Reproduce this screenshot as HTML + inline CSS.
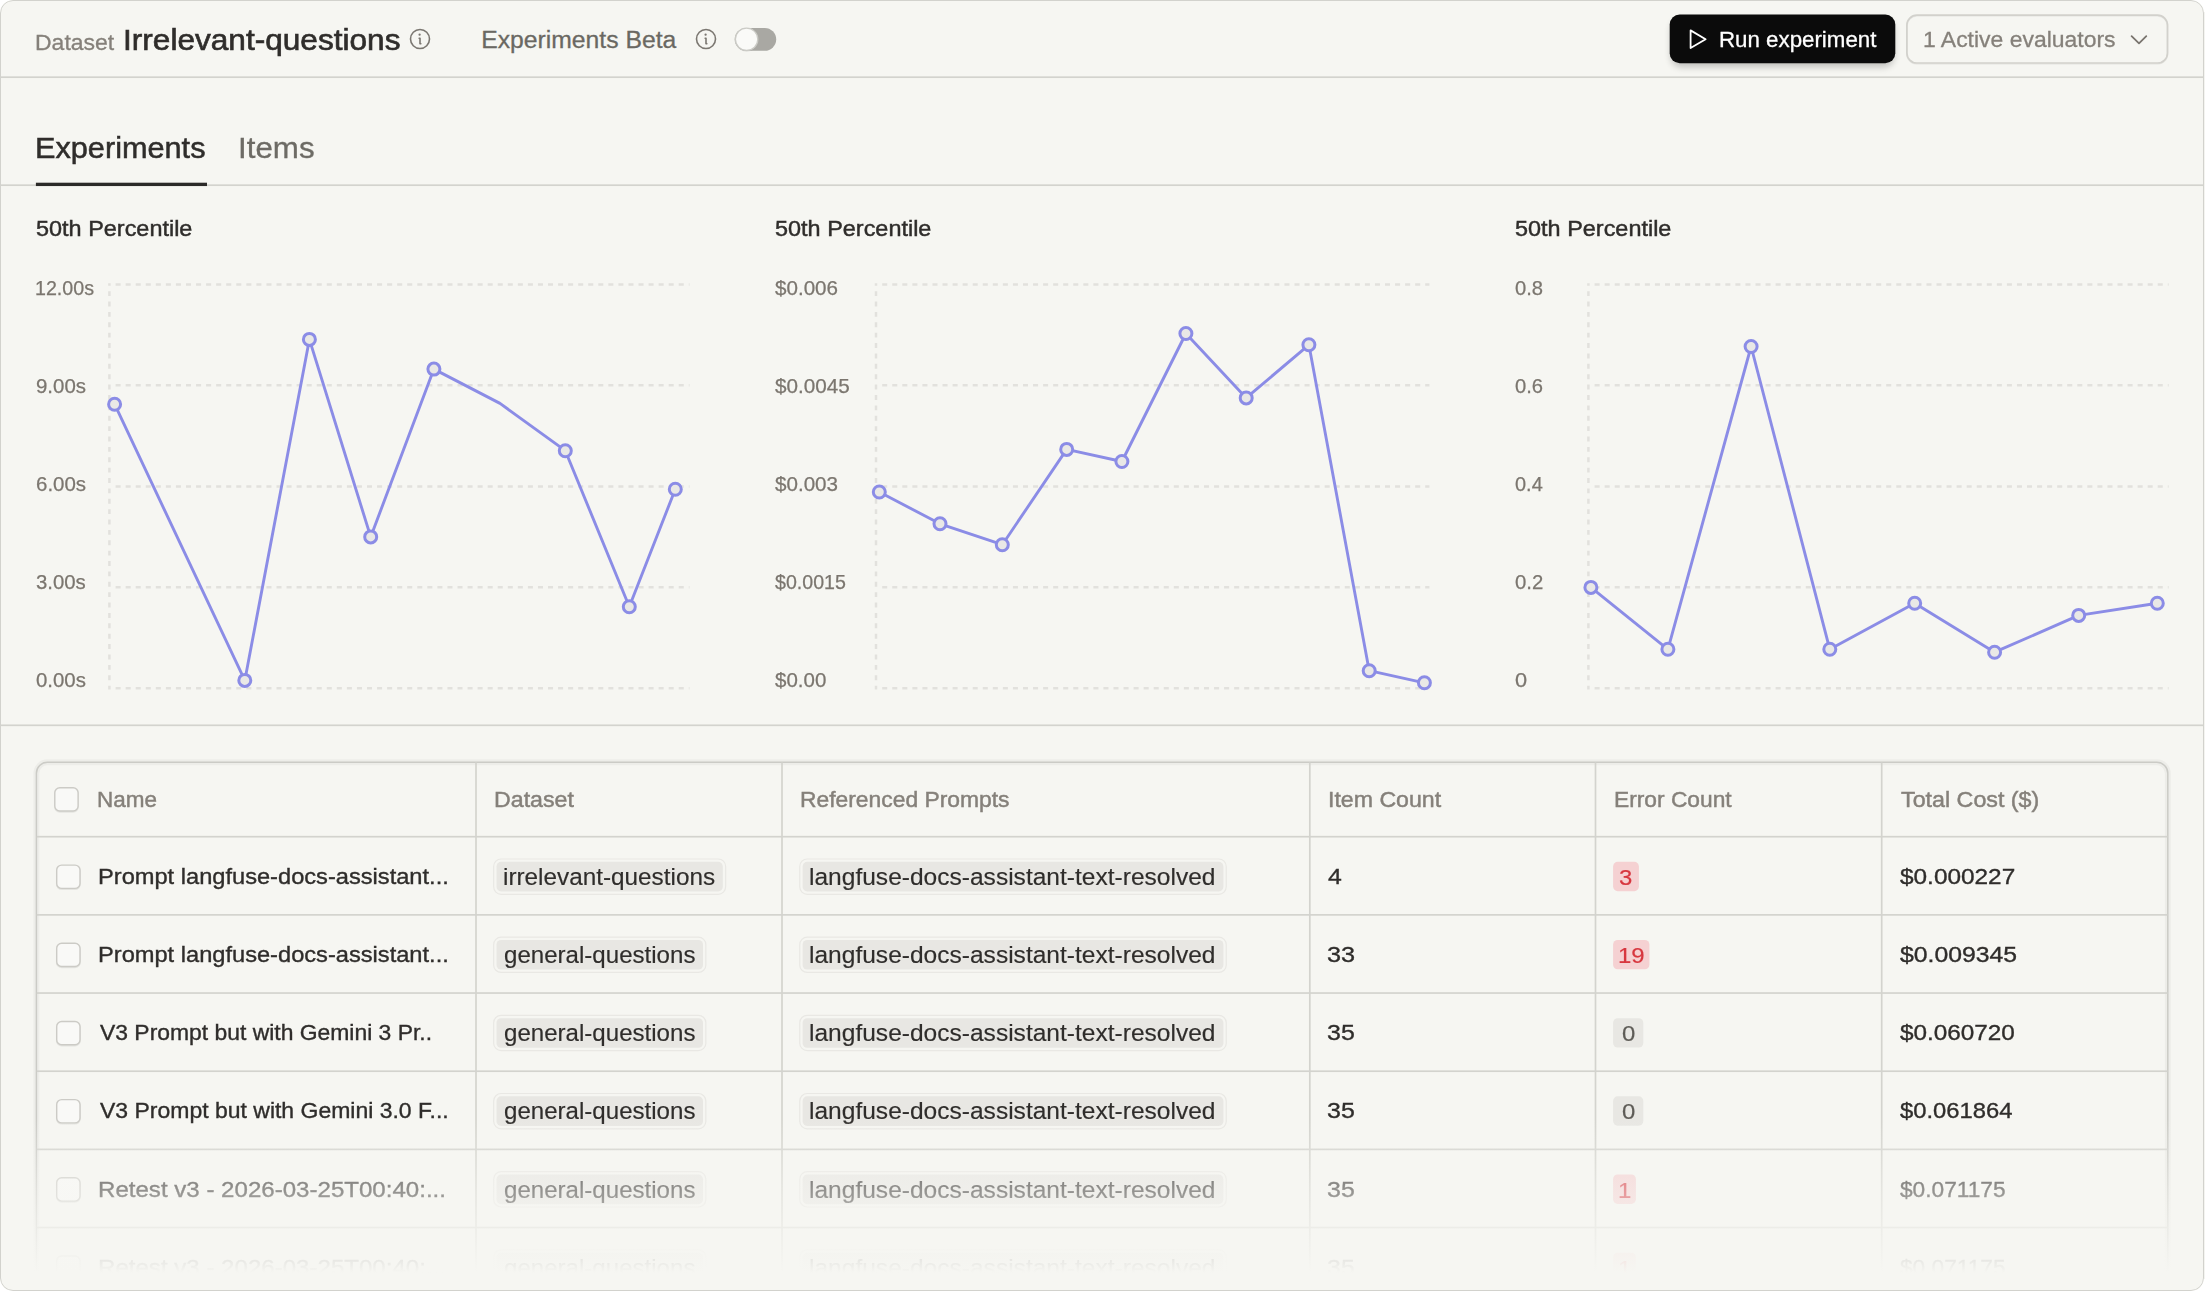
<!DOCTYPE html>
<html lang="en"><head><meta charset="utf-8"><title>Dataset Irrelevant-questions – Experiments</title>
<style>
html,body{margin:0;padding:0;background:#ffffff}
body{width:2205px;height:1291px;position:relative;overflow:hidden;font-family:"Liberation Sans",sans-serif}
#card{position:absolute;left:0;top:0;width:2204px;height:1291px;background:#f6f6f2;border-radius:13px;overflow:hidden}
#edge{position:absolute;left:2204px;top:12px;width:1px;height:1267px;background:#f4f4f0}
.a{position:absolute}
.t{position:absolute;white-space:nowrap;line-height:1;transform-origin:0 0;-webkit-font-smoothing:antialiased}
</style></head><body><div id="card">
<svg class="a" style="left:0;top:0" width="2205" height="1291" viewBox="0 0 2205 1291"><rect x="493.65" y="859.00" width="232.00" height="35.3" rx="7.5" fill="none" stroke="#e9e8e4" stroke-width="1.2"/><rect x="496.50" y="861.85" width="226.30" height="29.6" rx="4.6" fill="#e8e7e3"/><rect x="799.75" y="859.00" width="426.50" height="35.3" rx="7.5" fill="none" stroke="#e9e8e4" stroke-width="1.2"/><rect x="802.60" y="861.85" width="420.80" height="29.6" rx="4.6" fill="#e8e7e3"/><rect x="1613.10" y="861.80" width="25.80" height="29.4" rx="4.6" fill="#f5d1d2"/><rect x="493.65" y="937.17" width="212.20" height="35.3" rx="7.5" fill="none" stroke="#e9e8e4" stroke-width="1.2"/><rect x="496.50" y="940.02" width="206.50" height="29.6" rx="4.6" fill="#e8e7e3"/><rect x="799.75" y="937.17" width="426.50" height="35.3" rx="7.5" fill="none" stroke="#e9e8e4" stroke-width="1.2"/><rect x="802.60" y="940.02" width="420.80" height="29.6" rx="4.6" fill="#e8e7e3"/><rect x="1613.10" y="939.97" width="36.30" height="29.4" rx="4.6" fill="#f5d1d2"/><rect x="493.65" y="1015.34" width="212.20" height="35.3" rx="7.5" fill="none" stroke="#e9e8e4" stroke-width="1.2"/><rect x="496.50" y="1018.19" width="206.50" height="29.6" rx="4.6" fill="#e8e7e3"/><rect x="799.75" y="1015.34" width="426.50" height="35.3" rx="7.5" fill="none" stroke="#e9e8e4" stroke-width="1.2"/><rect x="802.60" y="1018.19" width="420.80" height="29.6" rx="4.6" fill="#e8e7e3"/><rect x="1613.10" y="1018.14" width="30.20" height="29.4" rx="4.6" fill="#e8e7e3"/><rect x="493.65" y="1093.51" width="212.20" height="35.3" rx="7.5" fill="none" stroke="#e9e8e4" stroke-width="1.2"/><rect x="496.50" y="1096.36" width="206.50" height="29.6" rx="4.6" fill="#e8e7e3"/><rect x="799.75" y="1093.51" width="426.50" height="35.3" rx="7.5" fill="none" stroke="#e9e8e4" stroke-width="1.2"/><rect x="802.60" y="1096.36" width="420.80" height="29.6" rx="4.6" fill="#e8e7e3"/><rect x="1613.10" y="1096.31" width="30.20" height="29.4" rx="4.6" fill="#e8e7e3"/><rect x="493.65" y="1171.68" width="212.20" height="35.3" rx="7.5" fill="none" stroke="#e9e8e4" stroke-width="1.2"/><rect x="496.50" y="1174.53" width="206.50" height="29.6" rx="4.6" fill="#e8e7e3"/><rect x="799.75" y="1171.68" width="426.50" height="35.3" rx="7.5" fill="none" stroke="#e9e8e4" stroke-width="1.2"/><rect x="802.60" y="1174.53" width="420.80" height="29.6" rx="4.6" fill="#e8e7e3"/><rect x="1613.10" y="1174.48" width="22.80" height="29.4" rx="4.6" fill="#f5d1d2"/><rect x="493.65" y="1249.85" width="212.20" height="35.3" rx="7.5" fill="none" stroke="#e9e8e4" stroke-width="1.2"/><rect x="496.50" y="1252.70" width="206.50" height="29.6" rx="4.6" fill="#e8e7e3"/><rect x="799.75" y="1249.85" width="426.50" height="35.3" rx="7.5" fill="none" stroke="#e9e8e4" stroke-width="1.2"/><rect x="802.60" y="1252.70" width="420.80" height="29.6" rx="4.6" fill="#e8e7e3"/><rect x="1613.10" y="1252.65" width="22.80" height="29.4" rx="4.6" fill="#f5d1d2"/></svg>
<div class="t " style="left:35.21px;top:30px;font-size:22.57px;line-height:25px;color:#85807a;transform:scaleX(1.0187);-webkit-text-stroke:0.3px #85807a;">Dataset</div>
<div class="t " style="left:123.01px;top:23px;font-size:30.1px;line-height:33px;color:#2f2d2b;transform:scaleX(1.0498);-webkit-text-stroke:0.65px #2f2d2b;">Irrelevant-questions</div>
<svg class="a" style="left:408.03px;top:27.130000000000003px" width="24" height="24" viewBox="0 0 24 24" fill="none" stroke="#7b7771" stroke-width="1.6" stroke-linecap="round" stroke-linejoin="round"><circle cx="12" cy="12" r="9.5"/><path d="M11.15 11.2H12V16.75H12.85"/><circle cx="11.6" cy="7.7" r="1.15" fill="#7b7771" stroke="none"/></svg>
<div class="t " style="left:481.17px;top:26px;font-size:24.72px;line-height:27px;color:#6a6862;-webkit-text-stroke:0.3px #6a6862;">Experiments Beta</div>
<svg class="a" style="left:694.0px;top:27.130000000000003px" width="24" height="24" viewBox="0 0 24 24" fill="none" stroke="#7b7771" stroke-width="1.6" stroke-linecap="round" stroke-linejoin="round"><circle cx="12" cy="12" r="9.5"/><path d="M11.15 11.2H12V16.75H12.85"/><circle cx="11.6" cy="7.7" r="1.15" fill="#7b7771" stroke="none"/></svg>
<svg class="a" style="left:720px;top:15px" width="70" height="50" viewBox="720 15 70 50"><rect x="734.7" y="27.9" width="41.5" height="22.9" rx="11.45" fill="#a9a8a3"/><circle cx="746.6" cy="40.6" r="11" fill="#000" opacity=".06"/><circle cx="746.6" cy="39.3" r="11.2" fill="#fafaf8" stroke="#cbcbc6" stroke-width="1.3"/></svg>
<svg class="a" style="left:1640px;top:0" width="290" height="90" viewBox="1640 0 290 90"><defs><filter id="bs" x="-10%" y="-30%" width="120%" height="180%"><feGaussianBlur stdDeviation="3.5"/></filter></defs><rect x="1671" y="20" width="223" height="47" rx="10" fill="#000" opacity=".22" filter="url(#bs)"/><rect x="1669.7" y="14.6" width="225.6" height="48.6" rx="10" fill="#0b0b0b"/></svg>
<svg class="a" style="left:1686px;top:27px" width="24" height="24" viewBox="0 0 24 24" fill="none" stroke="#fff" stroke-width="1.8" stroke-linejoin="round"><path d="M4.6 3.4 L19.6 12.2 L4.6 21 Z"/></svg>
<div class="t " style="left:1719.07px;top:27px;font-size:22.57px;line-height:25px;color:#ffffff;transform:scaleX(0.9882);-webkit-text-stroke:0.3px #ffffff;">Run experiment</div>
<div class="t " style="left:1923.23px;top:27px;font-size:22.57px;line-height:25px;color:#85807a;transform:scaleX(1.0164);-webkit-text-stroke:0.3px #85807a;">1 Active evaluators</div>
<svg class="a" style="left:2127px;top:27.5px" width="24" height="24" viewBox="0 0 24 24" fill="none" stroke="#7a756f" stroke-width="1.8" stroke-linecap="round" stroke-linejoin="round"><path d="M4.6 8.1 L12 15.3 L19.3 8.1"/></svg>
<div class="t " style="left:35.00px;top:132px;font-size:29.02px;line-height:32px;color:#2f2d2b;transform:scaleX(1.0572);-webkit-text-stroke:0.5px #2f2d2b;">Experiments</div>
<div class="t " style="left:237.53px;top:132px;font-size:29.02px;line-height:32px;color:#6d6b65;transform:scaleX(1.0791);-webkit-text-stroke:0.3px #6d6b65;">Items</div>
<div class="t " style="left:36.11px;top:216px;font-size:22.57px;line-height:25px;color:#2f2d2b;transform:scaleX(1.0391);-webkit-text-stroke:0.45px #2f2d2b;">50th Percentile</div>
<div class="t " style="left:35.17px;top:277px;font-size:19.35px;line-height:22px;color:#7b766f;transform:scaleX(1.0166);-webkit-text-stroke:0.25px #7b766f;">12.00s</div>
<div class="t " style="left:35.73px;top:375px;font-size:19.35px;line-height:22px;color:#7b766f;transform:scaleX(1.0565);-webkit-text-stroke:0.25px #7b766f;">9.00s</div>
<div class="t " style="left:35.63px;top:473px;font-size:19.35px;line-height:22px;color:#7b766f;transform:scaleX(1.0588);-webkit-text-stroke:0.25px #7b766f;">6.00s</div>
<div class="t " style="left:35.94px;top:571px;font-size:19.35px;line-height:22px;color:#7b766f;transform:scaleX(1.0521);-webkit-text-stroke:0.25px #7b766f;">3.00s</div>
<div class="t " style="left:35.83px;top:669px;font-size:19.35px;line-height:22px;color:#7b766f;transform:scaleX(1.0543);-webkit-text-stroke:0.25px #7b766f;">0.00s</div>
<svg class="a" style="left:0;top:0" width="2205" height="740" viewBox="0 0 2205 740" fill="none"><g stroke="#e2e1dd" stroke-width="2.5"><path d="M110.57 284.4H689.5" stroke-dasharray="5.028 5.028" stroke-dashoffset="5.028"/><path d="M110.57 385.3H689.5" stroke-dasharray="5.028 5.028" stroke-dashoffset="5.028"/><path d="M110.57 486.4H689.5" stroke-dasharray="5.028 5.028" stroke-dashoffset="5.028"/><path d="M110.57 587.3H689.5" stroke-dasharray="5.028 5.028" stroke-dashoffset="5.028"/><path d="M110.57 688.3H689.5" stroke-dasharray="5.028 5.028" stroke-dashoffset="5.028"/><path d="M109.4 283.2V689.5" stroke-dasharray="4.9 5.48" stroke-dashoffset="2.38"/></g><path d="M114.6 404.2 L244.8 680.4 L309.4 339.4 L370.7 536.9 L433.9 369.1 L500.0 403.4 L565.3 450.7 L629.3 606.7 L675.3 489.2" stroke="#8b8ce6" stroke-width="2.9" stroke-linejoin="round" stroke-linecap="round"/><circle cx="114.6" cy="404.2" r="6" fill="#e9e8e6" stroke="#8b8ce6" stroke-width="3"/><circle cx="244.8" cy="680.4" r="6" fill="#e9e8e6" stroke="#8b8ce6" stroke-width="3"/><circle cx="309.4" cy="339.4" r="6" fill="#e9e8e6" stroke="#8b8ce6" stroke-width="3"/><circle cx="370.7" cy="536.9" r="6" fill="#e9e8e6" stroke="#8b8ce6" stroke-width="3"/><circle cx="433.9" cy="369.1" r="6" fill="#e9e8e6" stroke="#8b8ce6" stroke-width="3"/><circle cx="565.3" cy="450.7" r="6" fill="#e9e8e6" stroke="#8b8ce6" stroke-width="3"/><circle cx="629.3" cy="606.7" r="6" fill="#e9e8e6" stroke="#8b8ce6" stroke-width="3"/><circle cx="675.3" cy="489.2" r="6" fill="#e9e8e6" stroke="#8b8ce6" stroke-width="3"/></svg>
<div class="t " style="left:775.41px;top:216px;font-size:22.57px;line-height:25px;color:#2f2d2b;transform:scaleX(1.0391);-webkit-text-stroke:0.45px #2f2d2b;">50th Percentile</div>
<div class="t " style="left:775.24px;top:277px;font-size:19.35px;line-height:22px;color:#7b766f;transform:scaleX(1.0654);-webkit-text-stroke:0.25px #7b766f;">$0.006</div>
<div class="t " style="left:775.24px;top:375px;font-size:19.35px;line-height:22px;color:#7b766f;transform:scaleX(1.0691);-webkit-text-stroke:0.25px #7b766f;">$0.0045</div>
<div class="t " style="left:775.24px;top:473px;font-size:19.35px;line-height:22px;color:#7b766f;transform:scaleX(1.0654);-webkit-text-stroke:0.25px #7b766f;">$0.003</div>
<div class="t " style="left:775.25px;top:571px;font-size:19.35px;line-height:22px;color:#7b766f;transform:scaleX(1.0140);-webkit-text-stroke:0.25px #7b766f;">$0.0015</div>
<div class="t " style="left:775.24px;top:669px;font-size:19.35px;line-height:22px;color:#7b766f;transform:scaleX(1.0599);-webkit-text-stroke:0.25px #7b766f;">$0.00</div>
<svg class="a" style="left:0;top:0" width="2205" height="740" viewBox="0 0 2205 740" fill="none"><g stroke="#e2e1dd" stroke-width="2.5"><path d="M877.17 284.4H1429.4" stroke-dasharray="5.028 5.028" stroke-dashoffset="5.028"/><path d="M877.17 385.3H1429.4" stroke-dasharray="5.028 5.028" stroke-dashoffset="5.028"/><path d="M877.17 486.4H1429.4" stroke-dasharray="5.028 5.028" stroke-dashoffset="5.028"/><path d="M877.17 587.3H1429.4" stroke-dasharray="5.028 5.028" stroke-dashoffset="5.028"/><path d="M877.17 688.3H1429.4" stroke-dasharray="5.028 5.028" stroke-dashoffset="5.028"/><path d="M876 283.2V689.5" stroke-dasharray="4.9 5.48" stroke-dashoffset="2.38"/></g><path d="M879.3 492.0 L940.0 523.8 L1002.3 544.7 L1066.7 449.4 L1121.9 461.5 L1185.9 333.5 L1246.2 397.9 L1308.9 344.8 L1369.2 670.7 L1424.4 682.8" stroke="#8b8ce6" stroke-width="2.9" stroke-linejoin="round" stroke-linecap="round"/><circle cx="879.3" cy="492.0" r="6" fill="#e9e8e6" stroke="#8b8ce6" stroke-width="3"/><circle cx="940.0" cy="523.8" r="6" fill="#e9e8e6" stroke="#8b8ce6" stroke-width="3"/><circle cx="1002.3" cy="544.7" r="6" fill="#e9e8e6" stroke="#8b8ce6" stroke-width="3"/><circle cx="1066.7" cy="449.4" r="6" fill="#e9e8e6" stroke="#8b8ce6" stroke-width="3"/><circle cx="1121.9" cy="461.5" r="6" fill="#e9e8e6" stroke="#8b8ce6" stroke-width="3"/><circle cx="1185.9" cy="333.5" r="6" fill="#e9e8e6" stroke="#8b8ce6" stroke-width="3"/><circle cx="1246.2" cy="397.9" r="6" fill="#e9e8e6" stroke="#8b8ce6" stroke-width="3"/><circle cx="1308.9" cy="344.8" r="6" fill="#e9e8e6" stroke="#8b8ce6" stroke-width="3"/><circle cx="1369.2" cy="670.7" r="6" fill="#e9e8e6" stroke="#8b8ce6" stroke-width="3"/><circle cx="1424.4" cy="682.8" r="6" fill="#e9e8e6" stroke="#8b8ce6" stroke-width="3"/></svg>
<div class="t " style="left:1514.61px;top:216px;font-size:22.57px;line-height:25px;color:#2f2d2b;transform:scaleX(1.0391);-webkit-text-stroke:0.45px #2f2d2b;">50th Percentile</div>
<div class="t " style="left:1514.74px;top:277px;font-size:19.35px;line-height:22px;color:#7b766f;transform:scaleX(1.0435);-webkit-text-stroke:0.25px #7b766f;">0.8</div>
<div class="t " style="left:1514.74px;top:375px;font-size:19.35px;line-height:22px;color:#7b766f;transform:scaleX(1.0435);-webkit-text-stroke:0.25px #7b766f;">0.6</div>
<div class="t " style="left:1514.75px;top:473px;font-size:19.35px;line-height:22px;color:#7b766f;transform:scaleX(1.0316);-webkit-text-stroke:0.25px #7b766f;">0.4</div>
<div class="t " style="left:1514.74px;top:571px;font-size:19.35px;line-height:22px;color:#7b766f;transform:scaleX(1.0515);-webkit-text-stroke:0.25px #7b766f;">0.2</div>
<div class="t " style="left:1514.68px;top:669px;font-size:19.35px;line-height:22px;color:#7b766f;transform:scaleX(1.1251);-webkit-text-stroke:0.25px #7b766f;">0</div>
<svg class="a" style="left:0;top:0" width="2205" height="740" viewBox="0 0 2205 740" fill="none"><g stroke="#e2e1dd" stroke-width="2.5"><path d="M1589.57 284.4H2168.6" stroke-dasharray="5.028 5.028" stroke-dashoffset="5.028"/><path d="M1589.57 385.3H2168.6" stroke-dasharray="5.028 5.028" stroke-dashoffset="5.028"/><path d="M1589.57 486.4H2168.6" stroke-dasharray="5.028 5.028" stroke-dashoffset="5.028"/><path d="M1589.57 587.3H2168.6" stroke-dasharray="5.028 5.028" stroke-dashoffset="5.028"/><path d="M1589.57 688.3H2168.6" stroke-dasharray="5.028 5.028" stroke-dashoffset="5.028"/><path d="M1588.4 283.2V689.5" stroke-dasharray="4.9 5.48" stroke-dashoffset="2.38"/></g><path d="M1590.9 587.4 L1667.9 649.3 L1751.1 346.5 L1829.8 649.3 L1914.7 603.3 L1994.6 652.2 L2078.7 615.4 L2157.3 603.3" stroke="#8b8ce6" stroke-width="2.9" stroke-linejoin="round" stroke-linecap="round"/><circle cx="1590.9" cy="587.4" r="6" fill="#e9e8e6" stroke="#8b8ce6" stroke-width="3"/><circle cx="1667.9" cy="649.3" r="6" fill="#e9e8e6" stroke="#8b8ce6" stroke-width="3"/><circle cx="1751.1" cy="346.5" r="6" fill="#e9e8e6" stroke="#8b8ce6" stroke-width="3"/><circle cx="1829.8" cy="649.3" r="6" fill="#e9e8e6" stroke="#8b8ce6" stroke-width="3"/><circle cx="1914.7" cy="603.3" r="6" fill="#e9e8e6" stroke="#8b8ce6" stroke-width="3"/><circle cx="1994.6" cy="652.2" r="6" fill="#e9e8e6" stroke="#8b8ce6" stroke-width="3"/><circle cx="2078.7" cy="615.4" r="6" fill="#e9e8e6" stroke="#8b8ce6" stroke-width="3"/><circle cx="2157.3" cy="603.3" r="6" fill="#e9e8e6" stroke="#8b8ce6" stroke-width="3"/></svg>
<div class="t " style="left:96.95px;top:787px;font-size:22.04px;line-height:25px;color:#85807a;transform:scaleX(1.0206);-webkit-text-stroke:0.45px #85807a;">Name</div>
<div class="t " style="left:493.89px;top:787px;font-size:22.04px;line-height:25px;color:#85807a;transform:scaleX(1.0526);-webkit-text-stroke:0.45px #85807a;">Dataset</div>
<div class="t " style="left:799.82px;top:787px;font-size:22.04px;line-height:25px;color:#85807a;transform:scaleX(1.0370);-webkit-text-stroke:0.45px #85807a;">Referenced Prompts</div>
<div class="t " style="left:1327.57px;top:787px;font-size:22.04px;line-height:25px;color:#85807a;transform:scaleX(1.0498);-webkit-text-stroke:0.45px #85807a;">Item Count</div>
<div class="t " style="left:1613.73px;top:787px;font-size:22.04px;line-height:25px;color:#85807a;transform:scaleX(1.0329);-webkit-text-stroke:0.45px #85807a;">Error Count</div>
<div class="t " style="left:1901.38px;top:787px;font-size:22.04px;line-height:25px;color:#85807a;transform:scaleX(1.0556);-webkit-text-stroke:0.45px #85807a;">Total Cost ($)</div>
<div class="t " style="left:98.21px;top:864px;font-size:22.04px;line-height:25px;color:#2f2d2b;transform:scaleX(1.0729);-webkit-text-stroke:0.36px #2f2d2b;">Prompt langfuse-docs-assistant...</div>
<div class="t " style="left:502.97px;top:864px;font-size:23.11px;line-height:26px;color:#2f2d2b;transform:scaleX(1.0518);-webkit-text-stroke:0.15px #2f2d2b;">irrelevant-questions</div>
<div class="t " style="left:809.35px;top:864px;font-size:23.11px;line-height:26px;color:#2f2d2b;transform:scaleX(1.0620);-webkit-text-stroke:0.15px #2f2d2b;">langfuse-docs-assistant-text-resolved</div>
<div class="t " style="left:1327.85px;top:864px;font-size:22.57px;line-height:25px;color:#2f2d2b;transform:scaleX(1.0990);-webkit-text-stroke:0.35px #2f2d2b;">4</div>
<div class="t " style="left:1619.42px;top:865px;font-size:22.57px;line-height:25px;color:#d7373f;transform:scaleX(1.0602);-webkit-text-stroke:0.2px #d7373f;">3</div>
<div class="t " style="left:1899.61px;top:864px;font-size:22.57px;line-height:25px;color:#2f2d2b;transform:scaleX(1.0804);-webkit-text-stroke:0.36px #2f2d2b;">$0.000227</div>
<div class="t " style="left:98.21px;top:942px;font-size:22.04px;line-height:25px;color:#2f2d2b;transform:scaleX(1.0729);-webkit-text-stroke:0.36px #2f2d2b;">Prompt langfuse-docs-assistant...</div>
<div class="t " style="left:503.59px;top:942px;font-size:23.11px;line-height:26px;color:#2f2d2b;transform:scaleX(1.0421);-webkit-text-stroke:0.15px #2f2d2b;">general-questions</div>
<div class="t " style="left:809.35px;top:942px;font-size:23.11px;line-height:26px;color:#2f2d2b;transform:scaleX(1.0620);-webkit-text-stroke:0.15px #2f2d2b;">langfuse-docs-assistant-text-resolved</div>
<div class="t " style="left:1327.47px;top:942px;font-size:22.57px;line-height:25px;color:#2f2d2b;transform:scaleX(1.1194);-webkit-text-stroke:0.35px #2f2d2b;">33</div>
<div class="t " style="left:1617.61px;top:943px;font-size:22.57px;line-height:25px;color:#d7373f;transform:scaleX(1.0602);-webkit-text-stroke:0.2px #d7373f;">19</div>
<div class="t " style="left:1899.60px;top:942px;font-size:22.57px;line-height:25px;color:#2f2d2b;transform:scaleX(1.0980);-webkit-text-stroke:0.36px #2f2d2b;">$0.009345</div>
<div class="t " style="left:99.99px;top:1020px;font-size:22.04px;line-height:25px;color:#2f2d2b;transform:scaleX(1.0390);-webkit-text-stroke:0.36px #2f2d2b;">V3 Prompt but with Gemini 3 Pr..</div>
<div class="t " style="left:503.59px;top:1020px;font-size:23.11px;line-height:26px;color:#2f2d2b;transform:scaleX(1.0421);-webkit-text-stroke:0.15px #2f2d2b;">general-questions</div>
<div class="t " style="left:809.35px;top:1020px;font-size:23.11px;line-height:26px;color:#2f2d2b;transform:scaleX(1.0620);-webkit-text-stroke:0.15px #2f2d2b;">langfuse-docs-assistant-text-resolved</div>
<div class="t " style="left:1327.48px;top:1020px;font-size:22.57px;line-height:25px;color:#2f2d2b;transform:scaleX(1.1066);-webkit-text-stroke:0.35px #2f2d2b;">35</div>
<div class="t " style="left:1621.50px;top:1021px;font-size:22.57px;line-height:25px;color:#5e5c57;transform:scaleX(1.0602);-webkit-text-stroke:0.2px #5e5c57;">0</div>
<div class="t " style="left:1899.61px;top:1020px;font-size:22.57px;line-height:25px;color:#2f2d2b;transform:scaleX(1.0769);-webkit-text-stroke:0.36px #2f2d2b;">$0.060720</div>
<div class="t " style="left:99.99px;top:1098px;font-size:22.04px;line-height:25px;color:#2f2d2b;transform:scaleX(1.0431);-webkit-text-stroke:0.36px #2f2d2b;">V3 Prompt but with Gemini 3.0 F...</div>
<div class="t " style="left:503.59px;top:1098px;font-size:23.11px;line-height:26px;color:#2f2d2b;transform:scaleX(1.0421);-webkit-text-stroke:0.15px #2f2d2b;">general-questions</div>
<div class="t " style="left:809.35px;top:1098px;font-size:23.11px;line-height:26px;color:#2f2d2b;transform:scaleX(1.0620);-webkit-text-stroke:0.15px #2f2d2b;">langfuse-docs-assistant-text-resolved</div>
<div class="t " style="left:1327.48px;top:1098px;font-size:22.57px;line-height:25px;color:#2f2d2b;transform:scaleX(1.1066);-webkit-text-stroke:0.35px #2f2d2b;">35</div>
<div class="t " style="left:1621.50px;top:1099px;font-size:22.57px;line-height:25px;color:#5e5c57;transform:scaleX(1.0602);-webkit-text-stroke:0.2px #5e5c57;">0</div>
<div class="t " style="left:1899.61px;top:1098px;font-size:22.57px;line-height:25px;color:#2f2d2b;transform:scaleX(1.0548);-webkit-text-stroke:0.36px #2f2d2b;">$0.061864</div>
<div class="t " style="left:98.17px;top:1177px;font-size:22.04px;line-height:25px;color:#2f2d2b;transform:scaleX(1.0929);-webkit-text-stroke:0.36px #2f2d2b;">Retest v3 - 2026-03-25T00:40:...</div>
<div class="t " style="left:503.59px;top:1177px;font-size:23.11px;line-height:26px;color:#2f2d2b;transform:scaleX(1.0421);-webkit-text-stroke:0.15px #2f2d2b;">general-questions</div>
<div class="t " style="left:809.35px;top:1177px;font-size:23.11px;line-height:26px;color:#2f2d2b;transform:scaleX(1.0620);-webkit-text-stroke:0.15px #2f2d2b;">langfuse-docs-assistant-text-resolved</div>
<div class="t " style="left:1327.48px;top:1177px;font-size:22.57px;line-height:25px;color:#2f2d2b;transform:scaleX(1.1066);-webkit-text-stroke:0.35px #2f2d2b;">35</div>
<div class="t " style="left:1617.50px;top:1178px;font-size:22.57px;line-height:25px;color:#d7373f;transform:scaleX(1.0602);-webkit-text-stroke:0.2px #d7373f;">1</div>
<div class="t " style="left:1899.62px;top:1177px;font-size:22.57px;line-height:25px;color:#2f2d2b;transform:scaleX(1.0060);-webkit-text-stroke:0.36px #2f2d2b;">$0.071175</div>
<div class="t " style="left:98.17px;top:1255px;font-size:22.04px;line-height:25px;color:#2f2d2b;transform:scaleX(1.0929);-webkit-text-stroke:0.36px #2f2d2b;">Retest v3 - 2026-03-25T00:40:...</div>
<div class="t " style="left:503.59px;top:1255px;font-size:23.11px;line-height:26px;color:#2f2d2b;transform:scaleX(1.0421);-webkit-text-stroke:0.15px #2f2d2b;">general-questions</div>
<div class="t " style="left:809.35px;top:1255px;font-size:23.11px;line-height:26px;color:#2f2d2b;transform:scaleX(1.0620);-webkit-text-stroke:0.15px #2f2d2b;">langfuse-docs-assistant-text-resolved</div>
<div class="t " style="left:1327.48px;top:1255px;font-size:22.57px;line-height:25px;color:#2f2d2b;transform:scaleX(1.1066);-webkit-text-stroke:0.35px #2f2d2b;">35</div>
<div class="t " style="left:1617.50px;top:1256px;font-size:22.57px;line-height:25px;color:#d7373f;transform:scaleX(1.0602);-webkit-text-stroke:0.2px #d7373f;">1</div>
<div class="t " style="left:1899.62px;top:1255px;font-size:22.57px;line-height:25px;color:#2f2d2b;transform:scaleX(1.0060);-webkit-text-stroke:0.36px #2f2d2b;">$0.071175</div>
<svg class="a" style="left:0;top:0" width="2205" height="1291" viewBox="0 0 2205 1291"><rect x="1906.9" y="16.0" width="260.6" height="47.9" rx="10" fill="none" stroke="#000" stroke-opacity=".05" stroke-width="1.7"/><rect x="1906.9" y="15.1" width="260.6" height="47.9" rx="10" fill="none" stroke="#d2d1cc" stroke-width="1.7"/><rect x="0" y="76.36" width="2205" height="1.68" fill="#d3d3ce"/><rect x="0" y="184.36" width="2205" height="1.68" fill="#d3d3ce"/><rect x="35.9" y="182.7" width="171.1" height="3.35" fill="#2b2a28"/><rect x="0" y="724.46" width="2205" height="1.68" fill="#d3d3ce"/><rect x="36.4" y="762.3" width="2131.4" height="600" rx="11" fill="none" stroke="#000" stroke-opacity="0.035" stroke-width="6"/><rect x="36.4" y="762.3" width="2131.4" height="600" rx="11" fill="none" stroke="#cbcbc6" stroke-width="1.5"/><rect x="475.16" y="762.5" width="1.68" height="540" fill="#d3d3ce"/><rect x="781.16" y="762.5" width="1.68" height="540" fill="#d3d3ce"/><rect x="1308.96" y="762.5" width="1.68" height="540" fill="#d3d3ce"/><rect x="1594.66" y="762.5" width="1.68" height="540" fill="#d3d3ce"/><rect x="1880.86" y="762.5" width="1.68" height="540" fill="#d3d3ce"/><rect x="36.8" y="835.86" width="2130.7999999999997" height="1.68" fill="#d3d3ce"/><rect x="36.8" y="914.03" width="2130.7999999999997" height="1.68" fill="#d3d3ce"/><rect x="36.8" y="992.20" width="2130.7999999999997" height="1.68" fill="#d3d3ce"/><rect x="36.8" y="1070.37" width="2130.7999999999997" height="1.68" fill="#d3d3ce"/><rect x="36.8" y="1148.54" width="2130.7999999999997" height="1.68" fill="#d3d3ce"/><rect x="36.8" y="1226.71" width="2130.7999999999997" height="1.68" fill="#d3d3ce"/><rect x="54.80" y="788.60" width="23.3" height="23.3" rx="5" fill="none" stroke="#000" stroke-opacity=".07" stroke-width="1.6"/><rect x="54.80" y="787.70" width="23.3" height="23.3" rx="5" fill="#f9f9f7" stroke="#cccbc6" stroke-width="1.4"/><rect x="56.70" y="866.00" width="23.3" height="23.3" rx="5" fill="none" stroke="#000" stroke-opacity=".07" stroke-width="1.6"/><rect x="56.70" y="865.10" width="23.3" height="23.3" rx="5" fill="#f9f9f7" stroke="#cccbc6" stroke-width="1.4"/><rect x="56.70" y="944.17" width="23.3" height="23.3" rx="5" fill="none" stroke="#000" stroke-opacity=".07" stroke-width="1.6"/><rect x="56.70" y="943.27" width="23.3" height="23.3" rx="5" fill="#f9f9f7" stroke="#cccbc6" stroke-width="1.4"/><rect x="56.70" y="1022.34" width="23.3" height="23.3" rx="5" fill="none" stroke="#000" stroke-opacity=".07" stroke-width="1.6"/><rect x="56.70" y="1021.44" width="23.3" height="23.3" rx="5" fill="#f9f9f7" stroke="#cccbc6" stroke-width="1.4"/><rect x="56.70" y="1100.51" width="23.3" height="23.3" rx="5" fill="none" stroke="#000" stroke-opacity=".07" stroke-width="1.6"/><rect x="56.70" y="1099.61" width="23.3" height="23.3" rx="5" fill="#f9f9f7" stroke="#cccbc6" stroke-width="1.4"/><rect x="56.70" y="1178.68" width="23.3" height="23.3" rx="5" fill="none" stroke="#000" stroke-opacity=".07" stroke-width="1.6"/><rect x="56.70" y="1177.78" width="23.3" height="23.3" rx="5" fill="#f9f9f7" stroke="#cccbc6" stroke-width="1.4"/><rect x="56.70" y="1256.85" width="23.3" height="23.3" rx="5" fill="none" stroke="#000" stroke-opacity=".07" stroke-width="1.6"/><rect x="56.70" y="1255.95" width="23.3" height="23.3" rx="5" fill="#f9f9f7" stroke="#cccbc6" stroke-width="1.4"/></svg>
<div class="a" style="left:2px;top:1118px;width:2200px;height:172px;background:linear-gradient(to bottom, rgba(246,246,242,0) 0%, rgba(246,246,242,.5) 42%, rgba(246,246,242,.9) 80%, rgba(246,246,242,1) 90%)"></div>
<div class="a" style="left:0;top:0;width:2204px;height:1291px;border:1px solid #d2d2cd;border-radius:13px;box-sizing:border-box;pointer-events:none"></div>
</div><div id="edge"></div></body></html>
